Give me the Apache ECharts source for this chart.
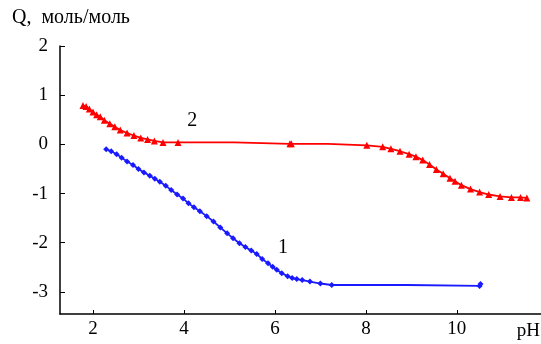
<!DOCTYPE html>
<html>
<head>
<meta charset="utf-8">
<script src="https://cdn.jsdelivr.net/npm/echarts@6/dist/echarts.min.js"></script>
<style>
  html, body { margin: 0; padding: 0; background: #fff; }
  #chart { width: 541px; height: 344px; }
</style>
</head>
<body>
<div id="chart"></div>
<script>
// кривая 1 (синяя): pH, Q
var curve1 = [
  [2.29, -0.10], [2.40, -0.14], [2.52, -0.20], [2.63, -0.27], [2.75, -0.35],
  [2.88, -0.42], [3.00, -0.50], [3.12, -0.57], [3.25, -0.64], [3.36, -0.70],
  [3.47, -0.76], [3.60, -0.84], [3.72, -0.93], [3.85, -1.02], [3.98, -1.10],
  [4.10, -1.20], [4.22, -1.28], [4.35, -1.36], [4.50, -1.46], [4.65, -1.57],
  [4.80, -1.69], [4.95, -1.81], [5.08, -1.91], [5.22, -2.01], [5.35, -2.09],
  [5.48, -2.16], [5.60, -2.23], [5.72, -2.33], [5.85, -2.42], [5.95, -2.49],
  [6.04, -2.55], [6.15, -2.62], [6.28, -2.68], [6.38, -2.72], [6.48, -2.74],
  [6.60, -2.76], [6.77, -2.79], [7.00, -2.83], [7.25, -2.86], [8.90, -2.86],
  [8.92, -2.89], [10.50, -2.88], [10.52, -2.84]
];
// кривая 2 (красная)
var curve2 = [
  [1.78, 0.79], [1.85, 0.77], [1.92, 0.72], [2.00, 0.66], [2.08, 0.60],
  [2.16, 0.56], [2.25, 0.49], [2.37, 0.42], [2.48, 0.36], [2.60, 0.29],
  [2.75, 0.23], [2.90, 0.18], [3.05, 0.13], [3.20, 0.10], [3.35, 0.07],
  [3.54, 0.04], [3.87, 0.04], [5.10, 0.04], [5.12, 0.01], [6.33, 0.01],
  [6.36, 0.01], [7.16, 0.01], [7.18, -0.02], [8.02, -0.02], [8.37, -0.05],
  [8.55, -0.09], [8.75, -0.14], [8.95, -0.20], [9.10, -0.25], [9.25, -0.32],
  [9.40, -0.41], [9.55, -0.51], [9.70, -0.60], [9.85, -0.69], [9.96, -0.75],
  [10.10, -0.83], [10.30, -0.91], [10.50, -0.97], [10.70, -1.02], [10.95, -1.06],
  [11.20, -1.08], [11.40, -1.08], [11.54, -1.09]
];
// точки излома линии без маркера
var noMark1 = [8.90, 8.92];
var noMark2 = [5.10, 5.12, 7.16, 7.18];

var xTicks = [2, 4, 6, 8, 10];
var yTicks = [-3, -2, -1, 0, 1, 2];

function toItems(arr, skip) {
  return arr.map(function (p) {
    if (skip.indexOf(p[0]) >= 0) return { value: p, symbol: 'none' };
    return p;
  });
}

var font = 'Liberation Serif';
var chart = echarts.init(document.getElementById('chart'));
var option = {
  animation: false,
  grid: { left: 60, right: 0, top: 46, bottom: 30 },
  xAxis: {
    type: 'value',
    min: 1.275,
    max: 11.85,
    axisLine: { onZero: false, lineStyle: { color: '#000', width: 1.5 } },
    axisTick: { inside: true, length: 4, customValues: xTicks, lineStyle: { color: '#000' } },
    axisLabel: { customValues: xTicks, color: '#000', fontFamily: font, fontSize: 19, margin: 6 },
    splitLine: { show: false }
  },
  yAxis: {
    type: 'value',
    min: -3.45,
    max: 2,
    axisLine: { show: true, onZero: false, lineStyle: { color: '#000', width: 1.5 } },
    axisTick: { show: true, inside: true, length: 5, customValues: yTicks, lineStyle: { color: '#000' } },
    axisLabel: { customValues: yTicks, color: '#000', fontFamily: font, fontSize: 19, margin: 12 },
    splitLine: { show: false }
  },
  graphic: [
    { type: 'text', left: 12, top: 8, style: { text: 'Q,  моль/моль', font: '20px "Liberation Serif"', fill: '#000' } },
    { type: 'text', right: 1, top: 322, style: { text: 'pH', font: '19px "Liberation Serif"', fill: '#000' } }
  ],
  series: [
    {
      name: '1',
      type: 'line',
      data: toItems(curve1, noMark1),
      symbol: 'diamond',
      symbolSize: 6,
      lineStyle: { color: '#1a1aff', width: 1.8 },
      itemStyle: { color: '#1a1aff' },
      markPoint: {
        symbol: 'circle',
        symbolSize: 0,
        label: { show: true, formatter: '1', color: '#000', fontFamily: font, fontSize: 20 },
        data: [{ coord: [6.18, -2.11] }]
      }
    },
    {
      name: '2',
      type: 'line',
      data: toItems(curve2, noMark2),
      symbol: 'triangle',
      symbolSize: 7,
      lineStyle: { color: '#ff0000', width: 1.8 },
      itemStyle: { color: '#ff0000' },
      markPoint: {
        symbol: 'circle',
        symbolSize: 0,
        label: { show: true, formatter: '2', color: '#000', fontFamily: font, fontSize: 20 },
        data: [{ coord: [4.18, 0.47] }]
      }
    }
  ]
};
chart.setOption(option);
</script>
</body>
</html>
